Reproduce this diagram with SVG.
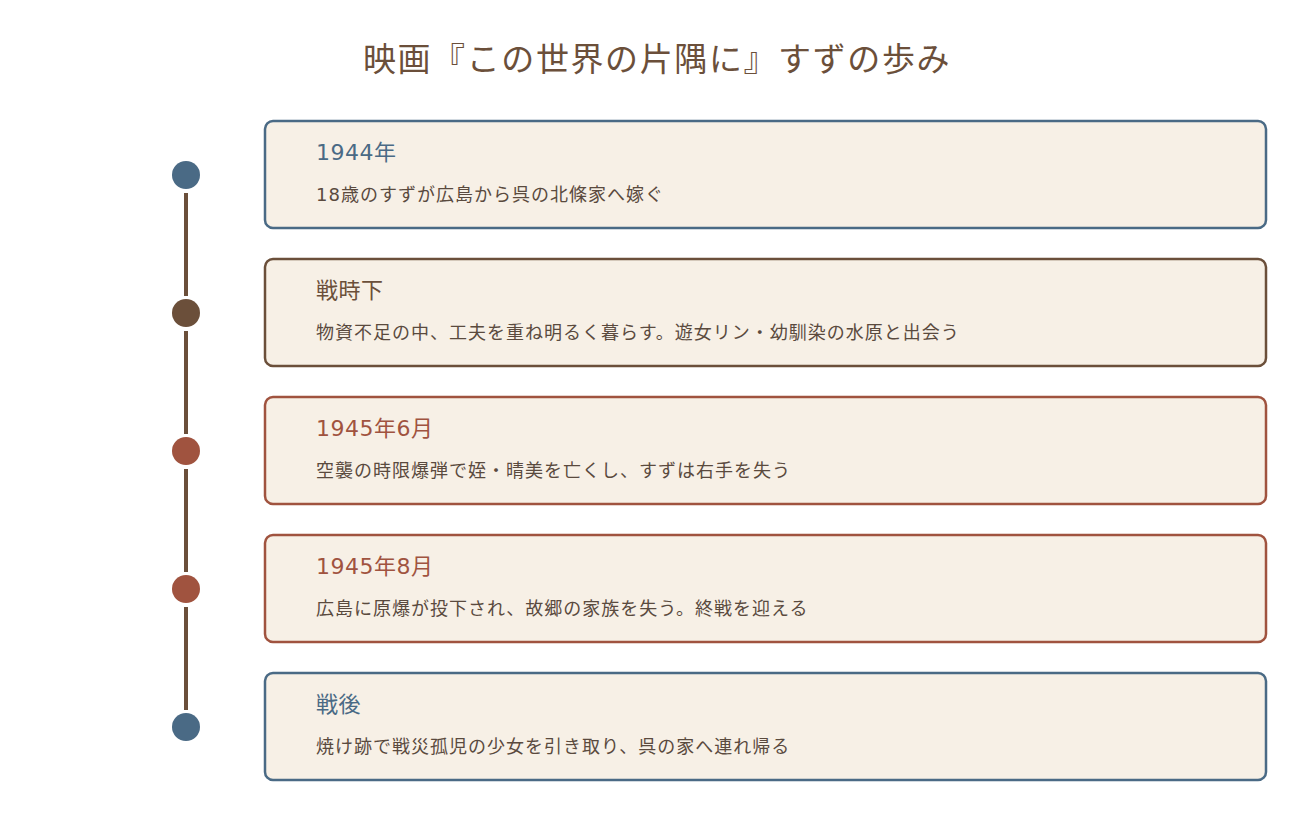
<svg xmlns="http://www.w3.org/2000/svg" width="1312" height="837" viewBox="0 0 1312 837">
<style>
text{font-family:"DejaVu Sans","Noto Sans CJK JP",sans-serif}
.title{font-family:"Noto Sans CJK JP",sans-serif;font-size:33px;fill:#6b4f3a;text-anchor:middle;letter-spacing:1.6px}
.box{fill:#f7f0e6;stroke-width:2.5}
.h{font-size:22px;letter-spacing:0.5px}
.b{font-size:18px;fill:#5a4a3e;letter-spacing:1px}
.blue{stroke:#4a6a85}.brown{stroke:#6b4f3a}.red{stroke:#a0533f}
.tblue{fill:#4a6a85}.tbrown{fill:#6b4f3a}.tred{fill:#a0533f}
.conn{stroke:#6b4f3a;stroke-width:4}
</style>
<rect width="1312" height="837" fill="#ffffff"/>
<text class="title" x="657" y="71">映画『この世界の片隅に』すずの歩み</text>
<g id="connectors">
<line class="conn" x1="186" y1="193" x2="186" y2="296"/>
<line class="conn" x1="186" y1="331" x2="186" y2="434"/>
<line class="conn" x1="186" y1="469" x2="186" y2="572"/>
<line class="conn" x1="186" y1="607" x2="186" y2="710"/>
</g>
<g id="node1">
<circle cx="186" cy="175" r="14" fill="#4a6a85"/>
<rect class="box blue" x="265" y="121" width="1001" height="107" rx="8"/>
<text class="h tblue" x="316" y="160">1944年</text>
<text class="b" x="316" y="201">18歳のすずが広島から呉の北條家へ嫁ぐ</text>
</g>
<g id="node2">
<circle cx="186" cy="313" r="14" fill="#6b4f3a"/>
<rect class="box brown" x="265" y="259" width="1001" height="107" rx="8"/>
<text class="h tbrown" x="316" y="298">戦時下</text>
<text class="b" x="316" y="339">物資不足の中、工夫を重ね明るく暮らす。遊女リン・幼馴染の水原と出会う</text>
</g>
<g id="node3">
<circle cx="186" cy="451" r="14" fill="#a0533f"/>
<rect class="box red" x="265" y="397" width="1001" height="107" rx="8"/>
<text class="h tred" x="316" y="436">1945年6月</text>
<text class="b" x="316" y="477">空襲の時限爆弾で姪・晴美を亡くし、すずは右手を失う</text>
</g>
<g id="node4">
<circle cx="186" cy="589" r="14" fill="#a0533f"/>
<rect class="box red" x="265" y="535" width="1001" height="107" rx="8"/>
<text class="h tred" x="316" y="574">1945年8月</text>
<text class="b" x="316" y="615">広島に原爆が投下され、故郷の家族を失う。終戦を迎える</text>
</g>
<g id="node5">
<circle cx="186" cy="727" r="14" fill="#4a6a85"/>
<rect class="box blue" x="265" y="673" width="1001" height="107" rx="8"/>
<text class="h tblue" x="316" y="712">戦後</text>
<text class="b" x="316" y="753">焼け跡で戦災孤児の少女を引き取り、呉の家へ連れ帰る</text>
</g>
</svg>
